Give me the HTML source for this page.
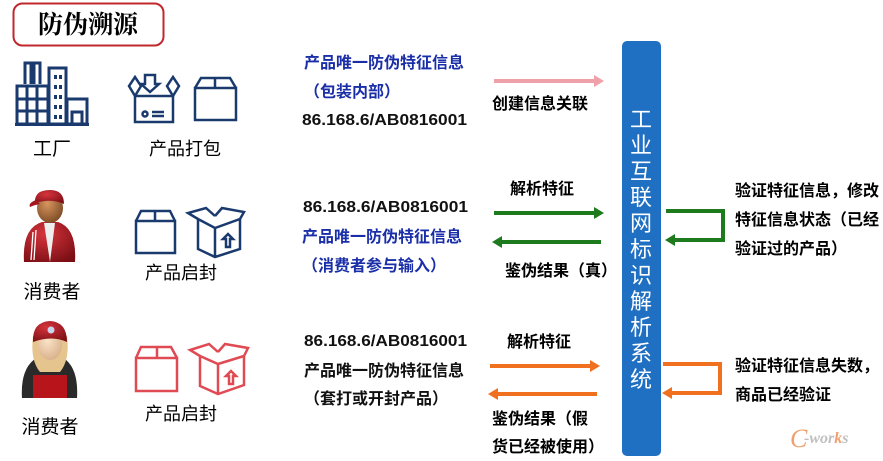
<!DOCTYPE html>
<html><head><meta charset="utf-8"><style>
html,body{margin:0;padding:0;background:#fff;}
svg{display:block;}
text{font-family:"Liberation Sans","Noto Sans CJK SC",sans-serif;}
.b{font-weight:bold;}
</style></head><body>
<svg width="883" height="461" viewBox="0 0 883 461" xmlns="http://www.w3.org/2000/svg">
<defs>
<radialGradient id="skin" cx="40%" cy="35%" r="70%"><stop offset="0" stop-color="#d9955e"/><stop offset="1" stop-color="#7a4a25"/></radialGradient>
<radialGradient id="red" cx="40%" cy="30%" r="80%"><stop offset="0" stop-color="#d6343c"/><stop offset="1" stop-color="#7a0e14"/></radialGradient>
<radialGradient id="skin2" cx="40%" cy="35%" r="70%"><stop offset="0" stop-color="#fbe3c8"/><stop offset="1" stop-color="#d8b08a"/></radialGradient>
</defs>

<rect x="13.5" y="3.5" width="150" height="42" rx="9" fill="#fff" stroke="#c0282e" stroke-width="2"/>
<text x="88" y="33" font-size="25" font-weight="bold" text-anchor="middle" style="font-family:'Noto Serif CJK SC','Liberation Serif',serif">防伪溯源</text>

<g fill="none" stroke="#1a3a6e" stroke-width="3">
<rect x="17" y="86" width="31" height="38"/>
<line x1="17" y1="99" x2="48" y2="99"/><line x1="17" y1="111" x2="48" y2="111"/>
<line x1="27" y1="86" x2="27" y2="124"/><line x1="37" y1="86" x2="37" y2="124"/>
<rect x="49" y="68" width="17" height="56"/>
<rect x="67" y="99" width="20" height="25"/>
<rect x="72" y="112" width="10" height="12"/>
<path d="M25 84 V63 H31 V84 M34 84 V63 H40 V84"/>
<line x1="15" y1="124.5" x2="89" y2="124.5"/>
</g>
<g fill="#1a3a6e"><rect x="54" y="75" width="3" height="4"/><rect x="59" y="75" width="3" height="4"/><rect x="54" y="85" width="3" height="4"/><rect x="59" y="85" width="3" height="4"/><rect x="54" y="95" width="3" height="4"/><rect x="59" y="95" width="3" height="4"/><rect x="54" y="105" width="3" height="4"/><rect x="59" y="105" width="3" height="4"/><rect x="54" y="115" width="3" height="4"/><rect x="59" y="115" width="3" height="4"/></g>
<text x="52" y="155" font-size="19" text-anchor="middle">工厂</text>

<g fill="none" stroke="#1a3a6e" stroke-width="2.5">
<rect x="135" y="96" width="38" height="26"/>
<path d="M135 96 L129 86 L135 77 L141 86 Z M173 96 L179 86 L173 77 L167 86 Z"/>
<path d="M145 75 V84 H141 L150 92 L159 84 H155 V75 Z"/>
<circle cx="145" cy="114" r="2.5"/><line x1="152" y1="112" x2="164" y2="112"/><line x1="152" y1="116" x2="164" y2="116"/>
<rect x="195" y="88" width="41" height="32"/>
<path d="M195 88 L201 78 H230 L236 88 M215 78 V88"/>
</g>
<text x="185" y="155" font-size="18" text-anchor="middle">产品打包</text>

<path d="M24 262 Q22 228 42 222 L58 222 Q77 228 75 262 Z" fill="url(#red)"/>
<path d="M44 223 L50 262 L55 223 Z" fill="#eee"/>
<path d="M33 232 L31 260 M36 230 L34 260" stroke="#fff" stroke-width="1.3"/>
<ellipse cx="50" cy="208" rx="13" ry="15" fill="url(#skin)"/>
<path d="M35 203 Q34 190 50 190 Q64 190 64 204 Q52 198 35 203 Z" fill="url(#red)"/>
<path d="M36 200 Q28 203 30 207 Q34 205 40 204 Z" fill="#a31820"/>
<text x="52" y="298" font-size="19" text-anchor="middle">消费者</text>

<g fill="none" stroke="#1a3a6e" stroke-width="2.5">
<path d="M136 221 L141 211 H170 L175 221 M155 211 V221"/>
<rect x="136" y="221" width="39" height="32"/>
<path d="M198 219 L215 228 L240 219 L240 249 L215 257 L198 249 Z M215 228 V257"/>
<path d="M198 219 L188 213 L206 208 L215 216 M215 216 L222 208 L244 212 L240 219"/>
<path d="M226 247 V239 H223 L228 234 L233 239 H230 V247 Z"/>
</g>
<text x="181" y="279" font-size="18" text-anchor="middle">产品启封</text>

<path d="M22 398 Q20 365 40 356 L60 356 Q79 365 77 398 Z" fill="#2a2a2a"/>
<path d="M33 375 H67 V398 H33 Z" fill="#b8141c"/>
<path d="M33 336 Q30 360 40 372 L60 372 Q70 360 67 336 Z" fill="#e6c48e"/>
<ellipse cx="50" cy="345" rx="12" ry="15" fill="url(#skin2)"/>
<path d="M33 342 Q32 322 50 321 Q67 322 67 342 Q52 335 33 342 Z" fill="url(#red)"/>
<circle cx="51" cy="330" r="3.5" fill="#c7d6ee"/>
<text x="50" y="433" font-size="19" text-anchor="middle">消费者</text>

<g fill="none" stroke="#e04a52" stroke-width="2.5">
<path d="M136 358 L141 347 H171 L177 358 M157 347 V358"/>
<rect x="136" y="358" width="41" height="33"/>
<path d="M200 356 L218 364 L244 356 L244 385 L218 394 L200 386 Z M218 364 V394"/>
<path d="M200 356 L190 350 L209 344 L218 352 M218 352 L225 344 L248 348 L244 356"/>
<path d="M229 384 V376 H226 L231 371 L236 376 H233 V384 Z"/>
</g>
<text x="181" y="420" font-size="18" text-anchor="middle">产品启封</text>

<g font-size="16" class="b">
<text x="304" y="68" fill="#1a2ea8">产品唯一防伪特征信息</text>
<text x="304" y="97" fill="#1a2ea8">（包装内部）</text>
<text x="302" y="125" fill="#111" textLength="165" lengthAdjust="spacingAndGlyphs">86.168.6/AB0816001</text>
<text x="303" y="212" fill="#111" textLength="165" lengthAdjust="spacingAndGlyphs">86.168.6/AB0816001</text>
<text x="302" y="242" fill="#1a2ea8">产品唯一防伪特征信息</text>
<text x="302" y="271" fill="#1a2ea8">（消费者参与输入）</text>
<text x="304" y="346" fill="#111" textLength="163" lengthAdjust="spacingAndGlyphs">86.168.6/AB0816001</text>
<text x="304" y="376" fill="#111">产品唯一防伪特征信息</text>
<text x="304" y="404" fill="#111">（套打或开封产品）</text>
</g>
<g font-size="16" class="b">
<text x="492" y="109">创建信息关联</text>
<text x="510" y="194">解析特征</text>
<text x="505" y="276">鉴伪结果（真）</text>
<text x="507" y="347">解析特征</text>
<text x="492" y="424">鉴伪结果（假</text>
<text x="492" y="452">货已经被使用）</text>
</g>

<g stroke-width="4" fill="none">
<line x1="494" y1="81" x2="594" y2="81" stroke="#f0a0a8"/>
<line x1="494" y1="213" x2="594" y2="213" stroke="#1d7a1d"/>
<line x1="502" y1="242" x2="601" y2="242" stroke="#1d7a1d"/>
<line x1="490" y1="366" x2="590" y2="366" stroke="#f07020"/>
<line x1="498" y1="394" x2="597" y2="394" stroke="#f07020"/>
<path d="M666 211 H723 V240 H674" stroke="#1d7a1d"/>
<path d="M663 364 H720 V393 H671" stroke="#f07020"/>
</g>
<polygon points="594,75 604,81 594,87" fill="#f0a0a8"/>
<polygon points="594,207 604,213 594,219" fill="#1d7a1d"/>
<polygon points="502,236 492,242 502,248" fill="#1d7a1d"/>
<polygon points="590,360 600,366 590,372" fill="#f07020"/>
<polygon points="498,388 488,394 498,400" fill="#f07020"/>
<polygon points="675,234 665,240 675,246" fill="#1d7a1d"/>
<polygon points="672,387 662,393 672,399" fill="#f07020"/>

<rect x="622" y="41" width="39" height="415" rx="5" fill="#1f6fc2"/>
<g font-size="22" fill="#fff" text-anchor="middle" style="font-family:'Noto Serif CJK SC',serif">
<text x="641" y="127">工</text><text x="641" y="153">业</text><text x="641" y="179">互</text><text x="641" y="205">联</text><text x="641" y="231">网</text><text x="641" y="257">标</text><text x="641" y="283">识</text><text x="641" y="309">解</text><text x="641" y="335">析</text><text x="641" y="361">系</text><text x="641" y="387">统</text>
</g>

<g font-size="16" class="b">
<text x="735" y="196">验证特征信息，修改</text>
<text x="735" y="225">特征信息状态（已经</text>
<text x="735" y="254">验证过的产品）</text>
<text x="735" y="371">验证特征信息失数，</text>
<text x="735" y="400">商品已经验证</text>
</g>

<text x="790" y="447" font-size="26" fill="#f0a070" font-style="italic" style="font-family:'Liberation Serif',serif">C</text>
<text x="804" y="443" font-size="16" fill="#c0c0c0" font-style="italic" font-weight="bold" style="font-family:'Liberation Serif',serif">-wor<tspan fill="#f0a070">k</tspan>s</text>
</svg>
</body></html>
